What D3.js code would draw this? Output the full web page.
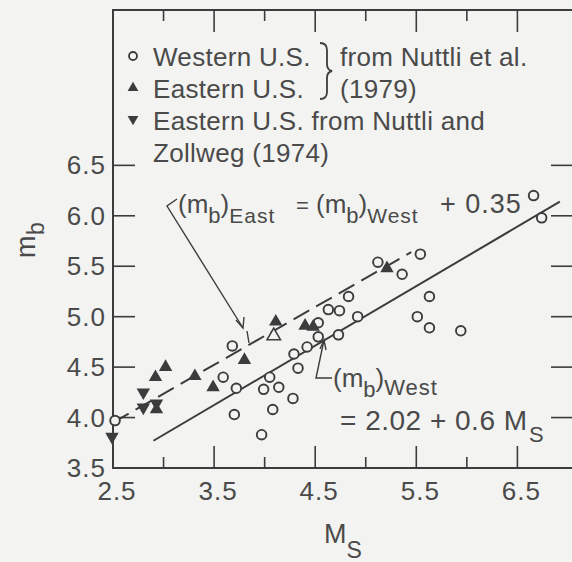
<!DOCTYPE html>
<html>
<head>
<meta charset="utf-8">
<script src="https://cdn.jsdelivr.net/npm/d3@7"></script>
<style>
    body { margin: 0; background: #f3f3f1; }
    svg text { font-family: "Liberation Sans", Arial, sans-serif; fill: #4a4a4a; }
</style>
</head>
<body>
<div id="content"></div>
<script>
// ======= data =======
// Western U.S. (open circles), Nuttli et al. 1979
var westMs = [6.66, 6.74, 5.54, 5.12, 5.36, 5.63, 4.83, 4.74, 4.63, 4.92, 5.51, 5.63, 5.94, 4.53, 4.53,
              4.73, 4.42, 4.29, 4.33, 3.68, 3.59, 3.72, 4.05, 3.99, 4.14, 4.28, 4.08, 3.70, 3.97, 2.52];
var westMb = [6.20, 5.98, 5.62, 5.54, 5.42, 5.20, 5.20, 5.06, 5.07, 5.00, 5.00, 4.89, 4.86, 4.94, 4.80,
              4.82, 4.70, 4.63, 4.49, 4.71, 4.40, 4.29, 4.40, 4.28, 4.30, 4.19, 4.08, 4.03, 3.83, 3.97];
// Eastern U.S. (filled up triangles), Nuttli et al. 1979
var eastMs = [5.21, 4.11, 4.40, 4.48, 3.80, 2.92, 3.02, 3.31, 3.49, 2.93];
var eastMb = [5.48, 4.95, 4.91, 4.90, 4.57, 4.40, 4.50, 4.41, 4.30, 4.08];
// open triangle
var eastOpenMs = [4.09];
var eastOpenMb = [4.81];
// Eastern U.S. from Nuttli and Zollweg 1974 (filled down triangles)
var nzMs = [2.80, 2.80, 2.93, 2.49];
var nzMb = [4.25, 4.10, 4.14, 3.81];
// fitted lines (end points as drawn)
var westLineMs = [2.90, 6.92];
var westLineMb = [3.77, 6.14];
var eastLineMs = [2.50, 5.45];
var eastLineMb = [3.95, 5.64];
// ticks
var majorTicks = [2.5, 3.5, 4.5, 5.5, 6.5];
var minorTicks = [3.0, 4.0, 5.0, 6.0];
var yTicks = [4.0, 4.5, 5.0, 5.5, 6.0, 6.5];
var yTickLabels = [3.5, 4.0, 4.5, 5.0, 5.5, 6.0, 6.5];

// ======= formatting =======
var width = 572, height = 562;
var ink = "#3c3c3c";
var bg = "#f3f3f1";

// ======= scales =======
var xScale = d3.scaleLinear().domain([2.5, 7.05]).range([113, 573]);
var yScale = d3.scaleLinear().domain([3.5, 8.04]).range([468, 10]);

// ======= elements =======
var svg = d3.select("#content").append("svg")
    .attr("width", width)
    .attr("height", height);

svg.append("rect").attr("width", width).attr("height", height).attr("fill", bg);

// ======= frame =======
svg.append("rect")
    .attr("x", xScale(2.5))
    .attr("y", yScale(8.04))
    .attr("width", xScale(7.05) - xScale(2.5))
    .attr("height", yScale(3.5) - yScale(8.04))
    .attr("fill", "none")
    .attr("stroke", ink)
    .attr("stroke-width", 2);

// ======= ticks (inward) =======
var tickG = svg.append("g").attr("stroke", ink).attr("stroke-width", 1.6);
function xTick(v, len) {
    tickG.append("line").attr("x1", xScale(v)).attr("x2", xScale(v))
        .attr("y1", yScale(3.5)).attr("y2", yScale(3.5) - len);
    tickG.append("line").attr("x1", xScale(v)).attr("x2", xScale(v))
        .attr("y1", yScale(8.04)).attr("y2", yScale(8.04) + len);
}
majorTicks.slice(1).forEach(function(v) { xTick(v, 22); });
minorTicks.forEach(function(v) { xTick(v, 11); });
yTicks.forEach(function(v) {
    tickG.append("line").attr("x1", xScale(2.5)).attr("x2", xScale(2.5) + 22)
        .attr("y1", yScale(v)).attr("y2", yScale(v));
    tickG.append("line").attr("x1", xScale(7.05)).attr("x2", xScale(7.05) - 22)
        .attr("y1", yScale(v)).attr("y2", yScale(v));
});

// ======= tick labels =======
svg.selectAll(".xlab").data(majorTicks).enter().append("text")
    .attr("class", "xlab")
    .attr("x", function(d) { return xScale(d) + 4; })
    .attr("y", 500)
    .attr("text-anchor", "middle")
    .style("font-size", "26px")
    .style("letter-spacing", "1px")
    .text(function(d) { return d.toFixed(1); });

svg.selectAll(".ylab").data(yTickLabels).enter().append("text")
    .attr("class", "ylab")
    .attr("x", 106)
    .attr("y", function(d) { return yScale(d) + 9; })
    .attr("text-anchor", "end")
    .style("font-size", "26px")
    .style("letter-spacing", "1px")
    .text(function(d) { return d.toFixed(1); });

// ======= runs of text with subscripts =======
function addRuns(x, y, runs) {
    var cx = x;
    runs.forEach(function(r) {
        if (r.x !== undefined) cx = r.x;
        var t = svg.append("text")
            .attr("x", cx)
            .attr("y", y + (r.dy || 0))
            .style("font-size", r.s + "px")
            .style("letter-spacing", (r.ls || 0) + "px")
            .text(r.t);
        cx += t.node().getComputedTextLength() + (r.gap || 0);
    });
}

// ======= axis titles =======
addRuns(324, 543, [{t: "M", s: 27}, {t: "S", s: 23, dy: 15}]);
var yTitle = svg.append("g").attr("transform", "translate(35,258) rotate(-90)");
yTitle.append("text").attr("x", 0).attr("y", 0).style("font-size", "27px").text("m");
yTitle.append("text").attr("x", 23).attr("y", 9).style("font-size", "23px").text("b");

// ======= lines =======
var line = d3.line()
    .x(function(d) { return xScale(d[0]); })
    .y(function(d) { return yScale(d[1]); });

svg.append("path")
    .datum(d3.zip(westLineMs, westLineMb))
    .attr("d", line)
    .attr("fill", "none")
    .attr("stroke", ink)
    .attr("stroke-width", 2);

svg.append("path")
    .datum(d3.zip(eastLineMs, eastLineMb))
    .attr("d", line)
    .attr("fill", "none")
    .attr("stroke", ink)
    .attr("stroke-width", 2)
    .attr("stroke-dasharray", "18,8");

// ======= markers =======
svg.append("g").selectAll("circle")
    .data(d3.zip(westMs, westMb))
    .enter().append("circle")
    .attr("cx", function(d) { return xScale(d[0]); })
    .attr("cy", function(d) { return yScale(d[1]); })
    .attr("r", 4.8)
    .attr("fill", bg)
    .attr("stroke", ink)
    .attr("stroke-width", 1.9);

var tri = d3.symbol().type(d3.symbolTriangle).size(78);
svg.append("g").selectAll("path")
    .data(d3.zip(eastMs, eastMb))
    .enter().append("path")
    .attr("d", tri)
    .attr("transform", function(d) { return "translate(" + xScale(d[0]) + "," + yScale(d[1]) + ")"; })
    .attr("fill", ink);

svg.append("g").selectAll("path")
    .data(d3.zip(eastOpenMs, eastOpenMb))
    .enter().append("path")
    .attr("d", tri)
    .attr("transform", function(d) { return "translate(" + xScale(d[0]) + "," + yScale(d[1]) + ")"; })
    .attr("fill", bg)
    .attr("stroke", ink)
    .attr("stroke-width", 1.6);

svg.append("g").selectAll("path")
    .data(d3.zip(nzMs, nzMb))
    .enter().append("path")
    .attr("d", tri)
    .attr("transform", function(d) { return "translate(" + xScale(d[0]) + "," + yScale(d[1]) + ") rotate(180)"; })
    .attr("fill", ink);

// ======= legend =======
var legTri = d3.symbol().type(d3.symbolTriangle).size(50);
svg.append("circle").attr("cx", 133).attr("cy", 56).attr("r", 4).attr("fill", "none")
    .attr("stroke", ink).attr("stroke-width", 1.8);
svg.append("path").attr("d", legTri).attr("transform", "translate(133,88)").attr("fill", ink);
svg.append("path").attr("d", legTri).attr("transform", "translate(133,119) rotate(180)").attr("fill", ink);

var legendLines = ["Western U.S.", "Eastern U.S.", "Eastern U.S. from Nuttli and", "Zollweg (1974)"];
var legendRight = ["from Nuttli et al.", "(1979)"];
svg.selectAll(".leg").data(legendLines).enter().append("text")
    .attr("class", "leg")
    .attr("x", 153)
    .attr("y", function(d, i) { return 66 + i * 32; })
    .style("font-size", "26px")
    .style("letter-spacing", "0.3px")
    .text(function(d) { return d; });
svg.selectAll(".legR").data(legendRight).enter().append("text")
    .attr("class", "legR")
    .attr("x", 340)
    .attr("y", function(d, i) { return 66 + i * 32; })
    .style("font-size", "26px")
    .style("letter-spacing", "0.3px")
    .text(function(d) { return d; });

// brace
svg.append("path")
    .attr("d", "M320,43 Q327,43 327,50 L327,64 Q327,70 332,71 Q327,72 327,78 L327,92 Q327,99 320,99")
    .attr("fill", "none")
    .attr("stroke", ink)
    .attr("stroke-width", 1.8);

// ======= annotations =======
addRuns(178, 213, [
    {t: "(m", s: 26}, {t: "b", s: 22, dy: 10}, {t: ")", s: 26}, {t: "East", s: 21, dy: 10, ls: 1},
    {t: "=", s: 22, x: 296},
    {t: "(m", s: 26, x: 316}, {t: "b", s: 22, dy: 10}, {t: ")", s: 26}, {t: "West", s: 21, dy: 10, ls: 1},
    {t: "+ 0.35", s: 27, x: 440, ls: 1}
]);
addRuns(333, 387, [
    {t: "(m", s: 26}, {t: "b", s: 22, dy: 10}, {t: ")", s: 26}, {t: "West", s: 22, dy: 8, ls: 1}
]);
addRuns(340, 430, [{t: "= 2.02 + 0.6 M", s: 28, ls: 0.5}, {t: "S", s: 22, dy: 12, x: 529}]);

// leader lines
var lead = svg.append("g").attr("fill", "none").attr("stroke", ink).attr("stroke-width", 1.4);
lead.append("path").attr("d", "M177,199 L167,206 L243,328");
lead.append("path").attr("d", "M236,320 L243,328 L244,317");
lead.append("path").attr("d", "M247,331 L249,343");
lead.append("path").attr("d", "M332,378 L316,378 L324,340");
lead.append("path").attr("d", "M320,349 L324,340 L326,350");
</script>
</body>
</html>
